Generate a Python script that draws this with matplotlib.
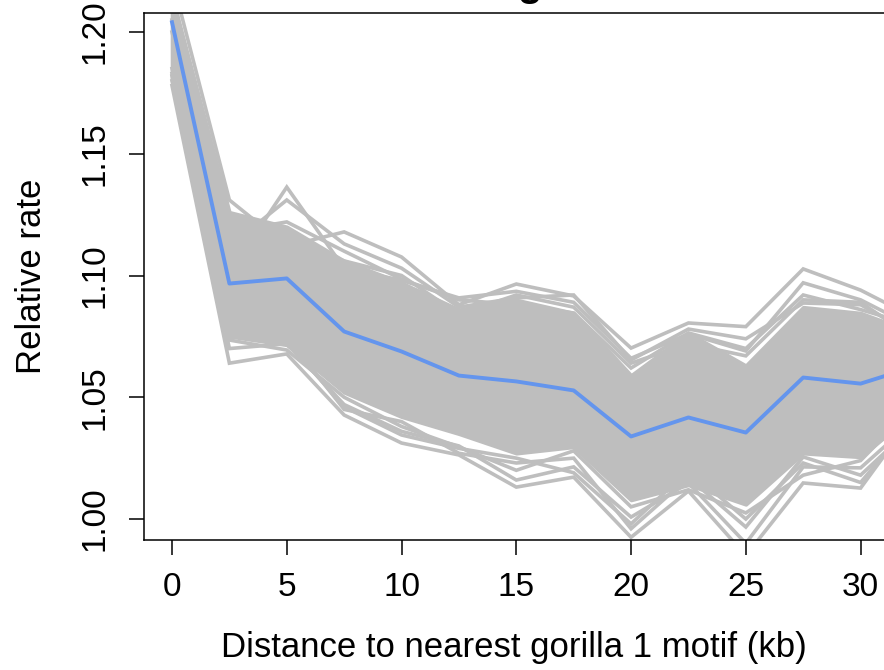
import matplotlib
matplotlib.use("Agg")
import matplotlib.pyplot as plt

plt.rcParams['font.family'] = ['Liberation Sans', 'DejaVu Sans']

# distance bins (kb)
distance = [0, 2.5, 5, 7.5, 10, 12.5, 15, 17.5, 20, 22.5, 25, 27.5, 30, 32.5]

# observed relative rate
observed = [1.204, 1.0967, 1.0988, 1.077, 1.0688, 1.0589, 1.0565, 1.0528,
            1.0339, 1.0417, 1.0355, 1.0581, 1.0556, 1.063]

# dense core of the resampled curves (lower / upper bounds)
core_low = [1.180, 1.075, 1.0715, 1.052, 1.042, 1.035, 1.027, 1.0296,
            1.0078, 1.014, 1.006, 1.027, 1.0255, 1.045]
core_high = [1.215, 1.126, 1.120, 1.106, 1.097, 1.086, 1.090, 1.0846,
             1.059, 1.0764, 1.063, 1.087, 1.0846, 1.076]

# individual resampled curves lying outside the core
resample_a = [1.222, 1.131, 1.112, 1.1179, 1.1076, 1.088, 1.0965, 1.0916,
              1.0702, 1.0805, 1.079, 1.1027, 1.094, 1.082]
resample_b = [1.200, 1.101, 1.1363, 1.103, 1.098, 1.0908, 1.0935, 1.089,
              1.066, 1.076, 1.069, 1.097, 1.090, 1.078]
resample_c = [1.210, 1.112, 1.131, 1.113, 1.103, 1.087, 1.0908, 1.092,
              1.0653, 1.078, 1.074, 1.0887, 1.088, 1.075]
resample_g = [1.215, 1.118, 1.122, 1.110, 1.0985, 1.090, 1.088, 1.0846,
              1.062, 1.0764, 1.070, 1.092, 1.086, 1.079]
resample_h = [1.205, 1.125, 1.115, 1.106, 1.100, 1.084, 1.092, 1.087,
              1.064, 1.072, 1.067, 1.090, 1.089, 1.073]
resample_d = [1.178, 1.064, 1.0678, 1.0427, 1.0312, 1.0263, 1.0131, 1.0172,
              0.9925, 1.0115, 0.985, 1.0148, 1.0127, 1.045]
resample_e = [1.182, 1.070, 1.072, 1.047, 1.036, 1.030, 1.016, 1.0214,
              1.0008, 1.0148, 0.990, 1.0214, 1.021, 1.042]
resample_f = [1.185, 1.078, 1.075, 1.045, 1.040, 1.027, 1.023, 1.025,
              0.996, 1.017, 0.9967, 1.0255, 1.018, 1.040]
resample_i = [1.180, 1.0735, 1.0694, 1.050, 1.038, 1.0296, 1.020, 1.028,
              1.005, 1.012, 1.0025, 1.018, 1.024, 1.048]
resample_j = [1.183, 1.075, 1.073, 1.046, 1.0345, 1.029, 1.025, 1.019,
              0.998, 1.020, 1.000, 1.023, 1.015, 1.043]

x_ticks = [0, 5, 10, 15, 20, 25, 30]
y_ticks = [1.00, 1.05, 1.10, 1.15, 1.20]
y_tick_labels = ["1.00", "1.05", "1.10", "1.15", "1.20"]

W, H = 884, 670
fig = plt.figure(figsize=(W / 100, H / 100), dpi=100)
left, right, top, bottom = 144, 884, 13, 540
ax = fig.add_axes([left / W, (H - bottom) / H, (right - left) / W, (bottom - top) / H])

grey = "#BEBEBE"
lw_grey = 2.6
ax.fill_between(distance, core_low, core_high, facecolor=grey, edgecolor=grey,
                linewidth=lw_grey, zorder=2)
for curve in (resample_a, resample_b, resample_c, resample_g, resample_h,
              resample_d, resample_e, resample_f, resample_i, resample_j):
    ax.plot(distance, curve, color=grey, lw=lw_grey, solid_joinstyle="miter", zorder=2)

ax.plot(distance, observed, color="#6495ED", lw=2.8, zorder=3)

ax.set_xlim(-1.22, 31.02)
ax.set_ylim(0.99138, 1.2078)

ax.set_xticks(x_ticks)
ax.set_xticklabels([str(t) for t in x_ticks])
ax.set_yticks(y_ticks)
ax.set_yticklabels(y_tick_labels, rotation=90, va="center")

fs = 24
ax.tick_params(axis="both", direction="out", length=10.8, width=1.1,
               labelsize=fs, color="black")
ax.tick_params(axis="x", pad=12)
ax.tick_params(axis="y", pad=13)

for side in ("left", "top", "bottom"):
    ax.spines[side].set_linewidth(1.1)
    ax.spines[side].set_color("black")
ax.spines["right"].set_visible(False)

ax.set_xlabel("Distance to nearest gorilla 1 motif (kb)", fontsize=25)
ax.xaxis.set_label_coords(0.5, (bottom - 647) / (bottom - top))
ax.xaxis.label.set_va("center")
ax.set_ylabel("Relative rate", fontsize=25)
ax.yaxis.set_label_coords((32 - left) / (right - left), 0.5)
ax.yaxis.label.set_va("center")

fig.text(518 / W, 1 + 4 / H, "gorilla 1", fontsize=29, fontweight="bold",
         ha="left", va="baseline")

fig.savefig("out.png", dpi=100)
